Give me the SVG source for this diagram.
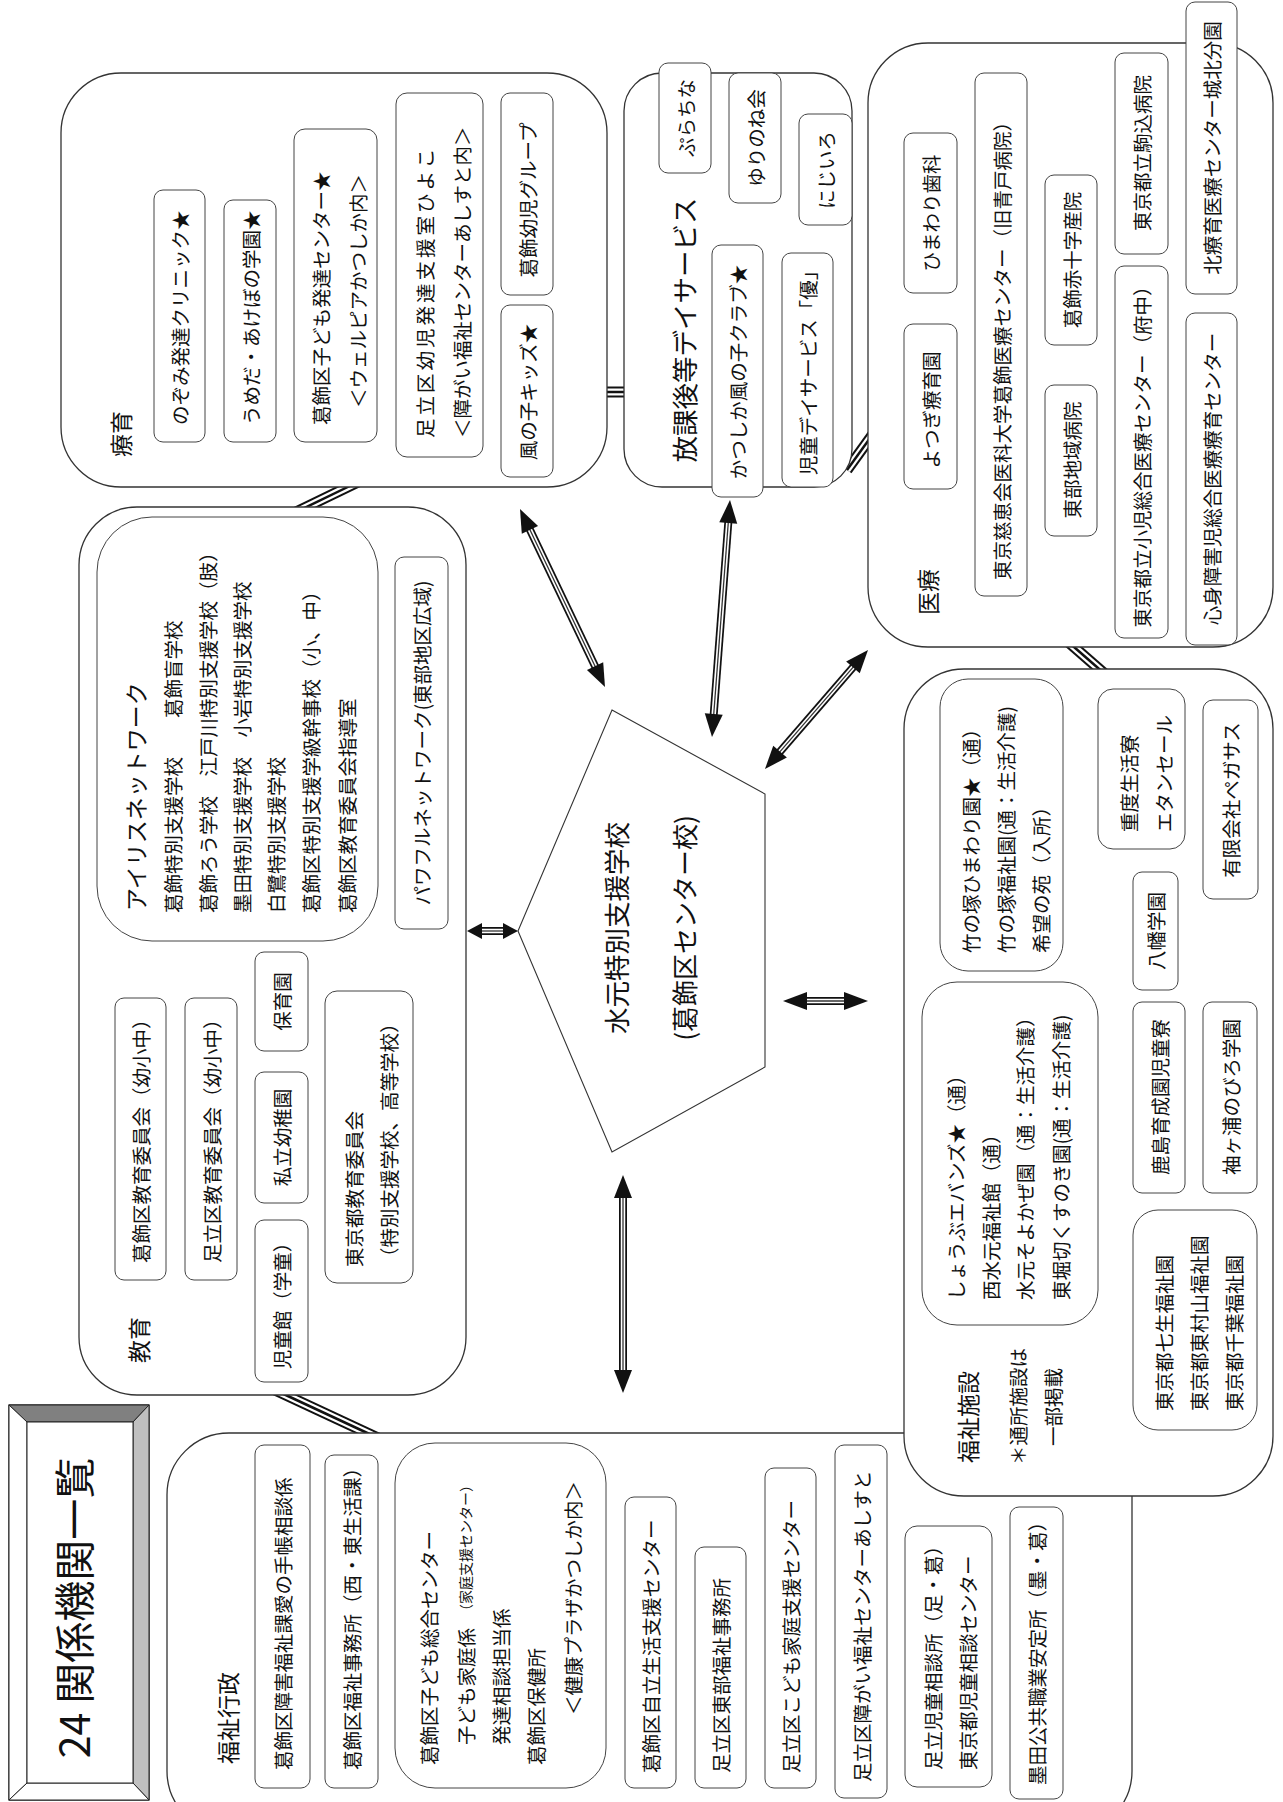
<svg xmlns="http://www.w3.org/2000/svg" width="1283" height="1802" viewBox="0 0 1283 1802">
<defs>
<style>
.t{font-family:"Noto Sans CJK JP","Noto Sans CJK SC",sans-serif;font-size:19.5px;fill:#111;dominant-baseline:central}
.m{text-anchor:middle}
.lb{font-size:23px}
.ob{fill:#fff;stroke:#333;stroke-width:1.3}
.ib{fill:#fff;stroke:#444;stroke-width:1}
.b1{stroke:#111;stroke-width:11;fill:none}
.b2{stroke:#fff;stroke-width:7;fill:none}
.b3{stroke:#111;stroke-width:2.5;fill:none}
.a1{stroke:#111;stroke-width:8}
.a2{stroke:#fff;stroke-width:4.5}
.a3{stroke:#333;stroke-width:1.3}
.ah{fill:#111}
</style>
</defs>
<rect x="0" y="0" width="1283" height="1802" fill="#fff"/>

<g id="connectors">
  <g id="band-ryoiku-houkago"><line class="b1" x1="600" y1="392" x2="631" y2="392"/><line class="b2" x1="600" y1="392" x2="631" y2="392"/><line class="b3" x1="600" y1="392" x2="631" y2="392"/></g>
  <g id="band-houkago-iryo"><line class="b1" x1="847" y1="470" x2="873" y2="434"/><line class="b2" x1="847" y1="470" x2="873" y2="434"/><line class="b3" x1="847" y1="470" x2="873" y2="434"/></g>
  <g id="band-ryoiku-kyoiku"><line class="b1" x1="292" y1="514" x2="358" y2="482"/><line class="b2" x1="292" y1="514" x2="358" y2="482"/><line class="b3" x1="292" y1="514" x2="358" y2="482"/></g>
  <g id="band-kyoiku-gyosei"><line class="b1" x1="275" y1="1390" x2="378" y2="1438"/><line class="b2" x1="275" y1="1390" x2="378" y2="1438"/><line class="b3" x1="275" y1="1390" x2="378" y2="1438"/></g>
  <g id="band-iryo-shisetsu"><line class="b1" x1="1066" y1="640" x2="1106" y2="675"/><line class="b2" x1="1066" y1="640" x2="1106" y2="675"/><line class="b3" x1="1066" y1="640" x2="1106" y2="675"/></g>

  <g id="arrow-ryoiku" transform="translate(562.5 598) rotate(64.47)">
    <line class="a1" x1="-80" y1="0" x2="80" y2="0"/><line class="a2" x1="-80" y1="0" x2="80" y2="0"/><line class="a3" x1="-80" y1="0" x2="80" y2="0"/>
    <polygon class="ah" points="-98.6,0 -75.6,-9 -75.6,9"/><polygon class="ah" points="98.6,0 75.6,-9 75.6,9"/>
  </g>
  <g id="arrow-houkago" transform="translate(721 618.5) rotate(94.34)">
    <line class="a1" x1="-100" y1="0" x2="100" y2="0"/><line class="a2" x1="-100" y1="0" x2="100" y2="0"/><line class="a3" x1="-100" y1="0" x2="100" y2="0"/>
    <polygon class="ah" points="-118.8,0 -95.8,-9 -95.8,9"/><polygon class="ah" points="118.8,0 95.8,-9 95.8,9"/>
  </g>
  <g id="arrow-iryo" transform="translate(816.5 709.5) rotate(130.88)">
    <line class="a1" x1="-60" y1="0" x2="60" y2="0"/><line class="a2" x1="-60" y1="0" x2="60" y2="0"/><line class="a3" x1="-60" y1="0" x2="60" y2="0"/>
    <polygon class="ah" points="-78.7,0 -55.7,-9 -55.7,9"/><polygon class="ah" points="78.7,0 55.7,-9 55.7,9"/>
  </g>
  <g id="arrow-kyoiku" transform="translate(492.5 931)">
    <line class="a1" x1="-13" y1="0" x2="13" y2="0"/><line class="a2" x1="-13" y1="0" x2="13" y2="0"/><line class="a3" x1="-13" y1="0" x2="13" y2="0"/>
    <polygon class="ah" points="-25.5,0 -10.5,-8 -10.5,8"/><polygon class="ah" points="25.5,0 10.5,-8 10.5,8"/>
  </g>
  <g id="arrow-shisetsu" transform="translate(825.5 1001)">
    <line class="a1" x1="-24" y1="0" x2="24" y2="0"/><line class="a2" x1="-24" y1="0" x2="24" y2="0"/><line class="a3" x1="-24" y1="0" x2="24" y2="0"/>
    <polygon class="ah" points="-42.5,0 -18.5,-9 -18.5,9"/><polygon class="ah" points="42.5,0 18.5,-9 18.5,9"/>
  </g>
  <g id="arrow-gyosei" transform="translate(623 1284) rotate(90)">
    <line class="a1" x1="-90" y1="0" x2="90" y2="0"/><line class="a2" x1="-90" y1="0" x2="90" y2="0"/><line class="a3" x1="-90" y1="0" x2="90" y2="0"/>
    <polygon class="ah" points="-109,0 -86,-9 -86,9"/><polygon class="ah" points="109,0 86,-9 86,9"/>
  </g>
</g>

<g id="title">
  <rect x="9" y="1405" width="140" height="395" fill="#fff" stroke="#222" stroke-width="1.3"/>
  <polygon points="9,1405 149,1405 133,1422 27,1422" fill="#808080" stroke="#222" stroke-width="1"/>
  <polygon points="149,1405 149,1800 133,1783 133,1422" fill="#c0c0c0" stroke="#222" stroke-width="1"/>
  <polygon points="9,1405 27,1422 27,1783 9,1800" fill="#fff" stroke="#222" stroke-width="1"/>
  <polygon points="9,1800 27,1783 133,1783 149,1800" fill="#fff" stroke="#222" stroke-width="1"/>
  <rect x="27" y="1422" width="106" height="361" fill="#fff" stroke="#222" stroke-width="1"/>
  <text class="t m" style="font-size:41px" transform="translate(72 1608) rotate(-90)">24 関係機関一覧</text>
</g>

<g id="ryoiku">
  <rect class="ob" x="61" y="73" width="546" height="414" rx="60"/>
  <text class="t lb m" transform="translate(120 434) rotate(-90)">療育</text>
  <rect class="ib" x="154" y="190" width="51" height="252" rx="9"/>
  <text class="t" transform="translate(179.5 425) rotate(-90)">のぞみ発達クリニック★</text>
  <rect class="ib" x="224" y="200" width="52" height="242" rx="9"/>
  <text class="t" transform="translate(250 425) rotate(-90)">うめだ・あけぼの学園★</text>
  <rect class="ib" x="294" y="129" width="83" height="313" rx="11"/>
  <text class="t" transform="translate(320 425) rotate(-90)">葛飾区子ども発達センター★</text>
  <text class="t" transform="translate(357 408) rotate(-90)">＜ウェルピアかつしか内＞</text>
  <rect class="ib" x="396" y="93" width="87" height="364" rx="11"/>
  <text class="t" letter-spacing="3" transform="translate(424 438) rotate(-90)">足立区幼児発達支援室ひよこ</text>
  <text class="t" transform="translate(461 438) rotate(-90)">＜障がい福祉センターあしすと内＞</text>
  <rect class="ib" x="501" y="93" width="52" height="202" rx="9"/>
  <text class="t m" transform="translate(527 200) rotate(-90)">葛飾幼児グループ</text>
  <rect class="ib" x="501" y="305" width="52" height="172" rx="9"/>
  <text class="t m" transform="translate(527 392) rotate(-90)">風の子キッズ★</text>
</g>

<g id="houkago">
  <rect class="ob" x="624" y="73" width="228" height="414" rx="38"/>
  <text class="t m" style="font-size:26.5px" transform="translate(683 330) rotate(-90)">放課後等デイサービス</text>
  <rect class="ib" x="659" y="63" width="52" height="110" rx="9"/>
  <text class="t m" transform="translate(685 118) rotate(-90)">ぷらちな</text>
  <rect class="ib" x="729" y="73" width="52" height="130" rx="9"/>
  <text class="t m" transform="translate(755 138) rotate(-90)">ゆりのね会</text>
  <rect class="ib" x="799" y="114" width="53" height="111" rx="9"/>
  <text class="t m" transform="translate(825.5 170) rotate(-90)">にじいろ</text>
  <rect class="ib" x="712" y="245" width="51" height="252" rx="9"/>
  <text class="t m" transform="translate(737.5 372) rotate(-90)">かつしか風の子クラブ★</text>
  <rect class="ib" x="782" y="253" width="51" height="234" rx="9"/>
  <text class="t m" transform="translate(807.5 368) rotate(-90)">児童デイサービス「優」</text>
</g>

<g id="iryo">
  <rect class="ob" x="868" y="43" width="405" height="604" rx="60"/>
  <text class="t lb m" transform="translate(927 592) rotate(-90)">医療</text>
  <rect class="ib" x="904" y="133" width="53" height="160" rx="9"/>
  <text class="t m" transform="translate(930.5 213) rotate(-90)">ひまわり歯科</text>
  <rect class="ib" x="904" y="324" width="53" height="165" rx="9"/>
  <text class="t m" transform="translate(930.5 410) rotate(-90)">よつぎ療育園</text>
  <rect class="ib" x="975" y="73" width="52" height="523" rx="9"/>
  <text class="t" transform="translate(1001 580) rotate(-90)">東京慈恵会医科大学葛飾医療センター（旧青戸病院）</text>
  <rect class="ib" x="1045" y="175" width="52" height="170" rx="9"/>
  <text class="t m" transform="translate(1071 260) rotate(-90)">葛飾赤十字産院</text>
  <rect class="ib" x="1045" y="385" width="52" height="151" rx="9"/>
  <text class="t m" transform="translate(1071 460) rotate(-90)">東部地域病院</text>
  <rect class="ib" x="1115" y="53" width="53" height="201" rx="9"/>
  <text class="t m" transform="translate(1141.5 153) rotate(-90)">東京都立駒込病院</text>
  <rect class="ib" x="1115" y="266" width="53" height="372" rx="9"/>
  <text class="t m" transform="translate(1141.5 452) rotate(-90)">東京都立小児総合医療センター（府中）</text>
  <rect class="ib" x="1186" y="2" width="51" height="292" rx="9"/>
  <text class="t m" transform="translate(1211.5 148) rotate(-90)">北療育医療センター城北分園</text>
  <rect class="ib" x="1186" y="313" width="51" height="332" rx="9"/>
  <text class="t m" transform="translate(1211.5 479) rotate(-90)">心身障害児総合医療療育センター</text>
</g>

<g id="kyoiku">
  <rect class="ob" x="79" y="507" width="387" height="888" rx="58"/>
  <text class="t lb m" transform="translate(138 1340) rotate(-90)">教育</text>
  <rect class="ib" x="97" y="517" width="281" height="424" rx="55"/>
  <text class="t lb" transform="translate(135 911) rotate(-90)">アイリスネットワーク</text>
  <text class="t" transform="translate(172 913) rotate(-90)">葛飾特別支援学校　　葛飾盲学校</text>
  <text class="t" transform="translate(207 913) rotate(-90)">葛飾ろう学校　江戸川特別支援学校（肢）</text>
  <text class="t" transform="translate(241 913) rotate(-90)">墨田特別支援学校　小岩特別支援学校</text>
  <text class="t" transform="translate(275 913) rotate(-90)">白鷺特別支援学校</text>
  <text class="t" transform="translate(310 913) rotate(-90)">葛飾区特別支援学級幹事校（小、中）</text>
  <text class="t" transform="translate(346 913) rotate(-90)">葛飾区教育委員会指導室</text>
  <rect class="ib" x="395" y="557" width="53" height="372" rx="9"/>
  <text class="t m" transform="translate(421.5 743) rotate(-90)">パワフルネットワーク(東部地区広域)</text>
  <rect class="ib" x="115" y="998" width="51" height="282" rx="9"/>
  <text class="t" transform="translate(140.5 1263) rotate(-90)">葛飾区教育委員会（幼小中）</text>
  <rect class="ib" x="185" y="998" width="52" height="282" rx="9"/>
  <text class="t" transform="translate(211 1263) rotate(-90)">足立区教育委員会（幼小中）</text>
  <rect class="ib" x="255" y="952" width="53" height="99" rx="9"/>
  <text class="t m" transform="translate(281.5 1001.5) rotate(-90)">保育園</text>
  <rect class="ib" x="255" y="1072" width="53" height="131" rx="9"/>
  <text class="t m" transform="translate(281.5 1137.5) rotate(-90)">私立幼稚園</text>
  <rect class="ib" x="255" y="1220" width="53" height="162" rx="9"/>
  <text class="t m" transform="translate(281.5 1301) rotate(-90)">児童館（学童）</text>
  <rect class="ib" x="325" y="991" width="88" height="292" rx="12"/>
  <text class="t" transform="translate(353 1267) rotate(-90)">東京都教育委員会</text>
  <text class="t" transform="translate(388 1267) rotate(-90)">（特別支援学校、高等学校）</text>
</g>

<g id="center-school">
  <polygon points="612,710 765,794 765,1067 612,1152 518,931" fill="#fff" stroke="#333" stroke-width="1.1"/>
  <text class="t m" style="font-size:26.5px" transform="translate(615 928) rotate(-90)">水元特別支援学校</text>
  <text class="t m" style="font-size:26px" transform="translate(683 928) rotate(-90)">(葛飾区センター校)</text>
</g>

<g id="fukushi-gyosei">
  <rect class="ob" x="167" y="1433" width="965" height="400" rx="62"/>
  <text class="t lb m" transform="translate(227 1718) rotate(-90)">福祉行政</text>
  <rect class="ib" x="255" y="1445" width="55" height="343" rx="9"/>
  <text class="t" transform="translate(282.5 1770) rotate(-90)">葛飾区障害福祉課愛の手帳相談係</text>
  <rect class="ib" x="325" y="1455" width="53" height="333" rx="9"/>
  <text class="t" transform="translate(351.5 1770) rotate(-90)">葛飾区福祉事務所（西・東生活課）</text>
  <rect class="ib" x="395" y="1443" width="211" height="345" rx="40"/>
  <text class="t" transform="translate(428 1765) rotate(-90)">葛飾区子ども総合センター</text>
  <text class="t" transform="translate(465 1745) rotate(-90)">子ども家庭係<tspan font-size="14" dx="10">（家庭支援センター）</tspan></text>
  <text class="t" transform="translate(500 1745) rotate(-90)">発達相談担当係</text>
  <text class="t" transform="translate(535 1765) rotate(-90)">葛飾区保健所</text>
  <text class="t" transform="translate(572 1715) rotate(-90)">＜健康プラザかつしか内＞</text>
  <rect class="ib" x="625" y="1497" width="51" height="291" rx="9"/>
  <text class="t" transform="translate(650.5 1773) rotate(-90)">葛飾区自立生活支援センター</text>
  <rect class="ib" x="695" y="1547" width="51" height="241" rx="9"/>
  <text class="t" transform="translate(720.5 1773) rotate(-90)">足立区東部福祉事務所</text>
  <rect class="ib" x="765" y="1468" width="51" height="320" rx="9"/>
  <text class="t" transform="translate(790.5 1773) rotate(-90)">足立区こども家庭支援センター</text>
  <rect class="ib" x="835" y="1445" width="52" height="353" rx="9"/>
  <text class="t" transform="translate(861 1782) rotate(-90)">足立区障がい福祉センターあしすと</text>
  <rect class="ib" x="905" y="1526" width="87" height="261" rx="12"/>
  <text class="t" transform="translate(932 1770) rotate(-90)">足立児童相談所（足・葛）</text>
  <text class="t" transform="translate(967 1770) rotate(-90)">東京都児童相談センター</text>
  <rect class="ib" x="1010" y="1507" width="53" height="292" rx="9"/>
  <text class="t" transform="translate(1036.5 1785) rotate(-90)">墨田公共職業安定所（墨・葛）</text>
</g>

<g id="fukushi-shisetsu">
  <rect class="ob" x="904" y="669" width="369" height="827" rx="60"/>
  <text class="t lb m" transform="translate(967 1417) rotate(-90)">福祉施設</text>
  <text class="t" transform="translate(1017 1465) rotate(-90)">＊通所施設は</text>
  <text class="t" transform="translate(1052 1446) rotate(-90)">一部掲載</text>
  <rect class="ib" x="940" y="679" width="123" height="292" rx="28"/>
  <text class="t" transform="translate(970 953) rotate(-90)">竹の塚ひまわり園★（通）</text>
  <text class="t" transform="translate(1005 953) rotate(-90)">竹の塚福祉園(通：生活介護)</text>
  <text class="t" transform="translate(1040 953) rotate(-90)">希望の苑（入所）</text>
  <rect class="ib" x="1098" y="689" width="87" height="160" rx="15"/>
  <text class="t" transform="translate(1128 832) rotate(-90)">重度生活寮</text>
  <text class="t" transform="translate(1163 832) rotate(-90)">エタンセール</text>
  <rect class="ib" x="1203" y="700" width="55" height="199" rx="10"/>
  <text class="t m" transform="translate(1230.5 800) rotate(-90)">有限会社ペガサス</text>
  <rect class="ib" x="1133" y="872" width="45" height="118" rx="9"/>
  <text class="t m" transform="translate(1155.5 931) rotate(-90)">八幡学園</text>
  <rect class="ib" x="922" y="982" width="176" height="343" rx="35"/>
  <text class="t" transform="translate(955 1300) rotate(-90)">しょうぶエバンズ★（通）</text>
  <text class="t" transform="translate(990 1300) rotate(-90)">西水元福祉館（通）</text>
  <text class="t" transform="translate(1024 1300) rotate(-90)">水元そよかぜ園（通：生活介護）</text>
  <text class="t" transform="translate(1060 1300) rotate(-90)">東堀切くすのき園(通：生活介護)</text>
  <rect class="ib" x="1133" y="1002" width="52" height="191" rx="9"/>
  <text class="t m" transform="translate(1159 1097) rotate(-90)">鹿島育成園児童寮</text>
  <rect class="ib" x="1203" y="1002" width="54" height="191" rx="9"/>
  <text class="t m" transform="translate(1230 1097) rotate(-90)">袖ヶ浦のびろ学園</text>
  <rect class="ib" x="1133" y="1210" width="124" height="220" rx="25"/>
  <text class="t" transform="translate(1163 1411) rotate(-90)">東京都七生福祉園</text>
  <text class="t" transform="translate(1198 1411) rotate(-90)">東京都東村山福祉園</text>
  <text class="t" transform="translate(1233 1411) rotate(-90)">東京都千葉福祉園</text>
</g>
</svg>
